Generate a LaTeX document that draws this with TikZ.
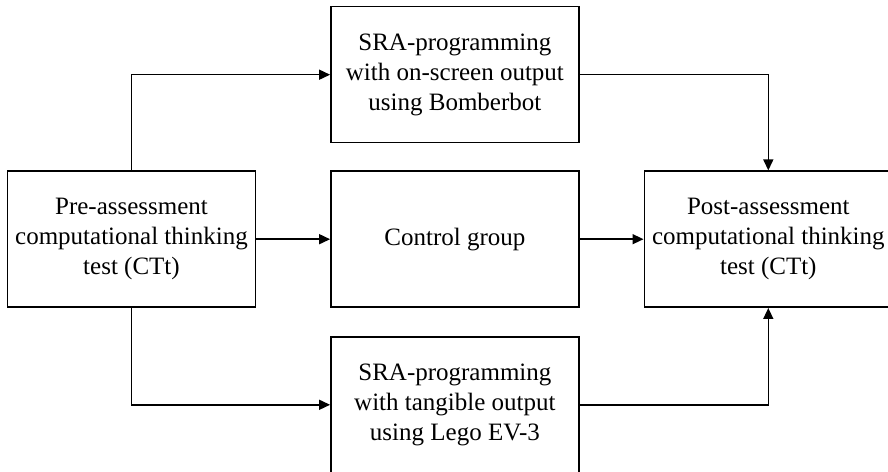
\documentclass[tikz,border=0pt]{standalone}
\usepackage{fontspec}
\setmainfont{Liberation Serif}
\usetikzlibrary{arrows.meta,positioning}
\definecolor{ctInk}{HTML}{000000}
\tikzset{
  ct canvas/.style={fill=white},
  ct box/.style={
    draw=ctInk,
    fill=white,
    line width=1.6pt,
    minimum width=248pt,
    minimum height=136pt,
    inner sep=0pt,
    font=\fontsize{25}{30}\selectfont,
    text=ctInk,
    align=center
  },
  ct flow/.style={
    draw=ctInk,
    line width=1.5pt,
    -{Triangle[length=11pt,width=10pt]}
  }
}

\begin{document}
\begin{tikzpicture}[x=1pt,y=1pt]
  \path[ct canvas, use as bounding box] (0,0) rectangle (888,471);
  \clip (0,0) rectangle (888,471);

  \node[ct box] (pre) at (131.5,231.8) {Pre-assessment\\computational thinking\\test (CTt)};
  \node[ct box] (screen) at (454.9,396.3) {SRA-programming\\with on-screen output\\using Bomberbot};
  \node[ct box] (control) at (454.9,231.8) {Control group};
  \node[ct box] (tangible) at (454.9,66.2) {SRA-programming\\with tangible output\\using Lego EV-3};
  \node[ct box] (post) at (768.3,231.8) {Post-assessment\\computational thinking\\test (CTt)};

  \draw[ct flow] (pre.north) |- (screen.west);
  \draw[ct flow] (pre.east) -- (control.west);
  \draw[ct flow] (pre.south) |- (tangible.west);
  \draw[ct flow] (screen.east) -| (post.north);
  \draw[ct flow] (control.east) -- (post.west);
  \draw[ct flow] (tangible.east) -| (post.south);
\end{tikzpicture}
\end{document}
